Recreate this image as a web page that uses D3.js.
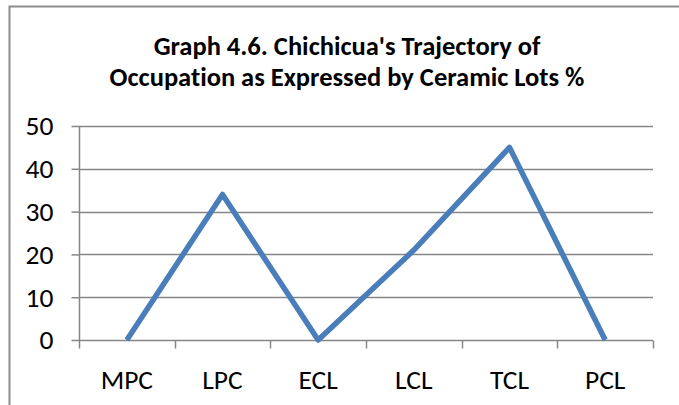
<!DOCTYPE html>
<html>
<head>
<meta charset="utf-8">
<script src="https://cdn.jsdelivr.net/npm/d3@7"></script>
<style>
  body { margin: 0; background: #fff; }
  svg { display: block; }
  text { font-variant-ligatures: none; }
</style>
</head>
<body>
<div id="chart"></div>
<script>
const periods = ["MPC", "LPC", "ECL", "LCL", "TCL", "PCL"];
const lotsPercent = [0, 34, 0, 21, 45, 0];
const yTicks = [0, 10, 20, 30, 40, 50];
const titleLines = ["Graph 4.6. Chichicua's Trajectory of",
    "Occupation as Expressed by Ceramic Lots %"];

const width = 679,
    height = 405;
const margin = { top: 126, right: 26, bottom: 65, left: 79 };
const font = "Carlito, Calibri, Lato, sans-serif";

const svg = d3.select("#chart")
    .append("svg")
    .attr("width", width)
    .attr("height", height);

// chart frame (only top and left edges show in the picture)
svg.append("path")
    .attr("d", `M9.5,${height} V6.5 H${width}`)
    .attr("fill", "none")
    .attr("stroke", "#8c8c8c")
    .attr("stroke-width", 2);

// title
svg.append("g")
    .selectAll("text")
    .data(titleLines)
    .join("text")
    .attr("x", 347)
    .attr("y", (d, i) => 55 + i * 31)
    .attr("text-anchor", "middle")
    .style("font-family", font)
    .style("font-weight", "bold")
    .style("font-size", "26.5px")
    .style("fill", "#000")
    .text(d => d);

const x = d3.scaleBand()
    .domain(periods)
    .range([margin.left, width - margin.right]);

const y = d3.scaleLinear()
    .domain([0, 50])
    .range([height - margin.bottom, margin.top]);

// gridlines
svg.append("g")
    .selectAll("line")
    .data(yTicks.filter(d => d > 0))
    .join("line")
    .attr("x1", margin.left)
    .attr("x2", width - margin.right)
    .attr("y1", d => Math.round(y(d)) + 0.5)
    .attr("y2", d => Math.round(y(d)) + 0.5)
    .attr("stroke", "#868686")
    .attr("stroke-width", 1.5);

// y axis
const yAxis = svg.append("g")
    .attr("transform", `translate(${margin.left + 0.5},0)`)
    .call(d3.axisLeft(y).tickValues(yTicks).tickSize(8).tickPadding(18).tickSizeOuter(0));

// x axis
const xAxis = svg.append("g")
    .attr("transform", `translate(0,${Math.round(y(0)) + 0.5})`)
    .call(d3.axisBottom(x).tickSize(0).tickPadding(29));

// category boundary ticks
xAxis.selectAll(".bound")
    .data(d3.range(periods.length + 1))
    .join("line")
    .attr("class", "bound")
    .attr("x1", i => Math.round(margin.left + i * x.step()) + 0.5)
    .attr("x2", i => Math.round(margin.left + i * x.step()) + 0.5)
    .attr("y1", 0)
    .attr("y2", 8)
    .attr("stroke", "#868686")
    .attr("stroke-width", 1.5);

[yAxis, xAxis].forEach(ax => {
    ax.selectAll(".domain, .tick line")
        .attr("stroke", "#868686")
        .attr("stroke-width", 1.5);
    ax.selectAll("text")
        .style("font-family", font)
        .style("font-size", "27.5px")
        .attr("fill", "#000");
});
yAxis.selectAll(".domain").attr("d", `M0,${y(0)}V${y(50)}`);
xAxis.selectAll(".domain").attr("d", `M${margin.left},0H${width - margin.right}`);

// data line
const line = d3.line()
    .x((d, i) => x(periods[i]) + x.bandwidth() / 2)
    .y(d => y(d));

svg.append("path")
    .datum(lotsPercent)
    .attr("d", line)
    .attr("fill", "none")
    .attr("stroke", "#4a7ebb")
    .attr("stroke-width", 5.5)
    .attr("stroke-linejoin", "round");
</script>
</body>
</html>
